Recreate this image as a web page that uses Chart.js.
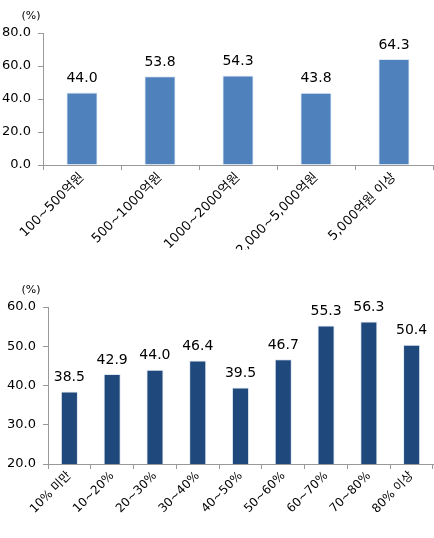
<!DOCTYPE html>
<html>
<head>
<meta charset="utf-8">
<script src="https://cdn.jsdelivr.net/npm/chart.js@4"></script>
<style>
  body { margin: 0; background: #fff; }
  .box { position: absolute; left: 0; width: 434px; }
  #top { top: 0; height: 250px; }
  #bottom { top: 260px; height: 278px; }
</style>
</head>
<body>
<div class="box" id="top"><canvas id="chart1"></canvas></div>
<div class="box" id="bottom"><canvas id="chart2"></canvas></div>
<script>
const sizeLabels = ["100~500억원", "500~1000억원", "1000~2000억원", "2,000~5,000억원", "5,000억원 이상"]
const sizeValues = [44.0, 53.8, 54.3, 43.8, 64.3]

const ratioLabels = ["10% 미만", "10~20%", "20~30%", "30~40%", "40~50%", "50~60%", "60~70%", "70~80%", "80% 이상"]
const ratioValues = [38.5, 42.9, 44.0, 46.4, 39.5, 46.7, 55.3, 56.3, 50.4]

const font = "'DejaVu Sans', 'Noto Sans CJK KR', sans-serif"

// draws the value above each bar and the "(%)" unit label
const valueLabels = {
  id: 'valueLabels',
  afterDatasetsDraw(chart) {
    const ctx = chart.ctx
    const meta = chart.getDatasetMeta(0)
    ctx.save()
    ctx.fillStyle = '#000'
    ctx.font = '14px ' + font
    ctx.textAlign = 'center'
    ctx.textBaseline = 'bottom'
    meta.data.forEach((bar, i) => {
      ctx.fillText(chart.data.datasets[0].data[i].toFixed(1), bar.x, bar.y - 7)
    })
    ctx.font = '11px ' + font
    ctx.fillText('(%)', chart.scales.y.left + 31, chart.chartArea.top - 11)
    ctx.restore()
  }
}

function makeChart(id, labels, values, color, min, max, step, yWidth, xHeight, padTop, xFont) {
  return new Chart(document.getElementById(id), {
    type: 'bar',
    data: {
      labels: labels,
      datasets: [{
        data: values,
        backgroundColor: color,
        borderColor: 'rgba(220, 230, 242, 0.9)',
        borderWidth: 1,
        barPercentage: 0.8,
        categoryPercentage: 0.5
      }]
    },
    options: {
      responsive: true,
      maintainAspectRatio: false,
      animation: false,
      layout: { padding: { top: padTop, right: 1 } },
      plugins: { legend: { display: false }, tooltip: { enabled: false } },
      scales: {
        x: {
          grid: { offset: true, drawOnChartArea: false, drawTicks: true, tickLength: 5, color: '#999' },
          border: { color: '#999' },
          ticks: { color: '#000', font: { family: font, size: xFont }, minRotation: 45, maxRotation: 45, padding: 0 },
          afterFit(scale) { scale.height = xHeight }
        },
        y: {
          min: min,
          max: max,
          grid: { drawOnChartArea: false, drawTicks: true, tickLength: 5, color: '#999' },
          border: { color: '#999' },
          ticks: {
            stepSize: step,
            color: '#000',
            font: { family: font, size: 13 },
            padding: 7,
            callback: v => v.toFixed(1)
          },
          afterFit(scale) { scale.width = yWidth }
        }
      }
    },
    plugins: [valueLabels]
  })
}

makeChart('chart1', sizeLabels, sizeValues, '#4F81BD', 0, 80, 20, 43, 85, 33, 13)
makeChart('chart2', ratioLabels, ratioValues, '#1F497D', 20, 60, 10, 48, 74, 47, 12)
</script>
</body>
</html>
